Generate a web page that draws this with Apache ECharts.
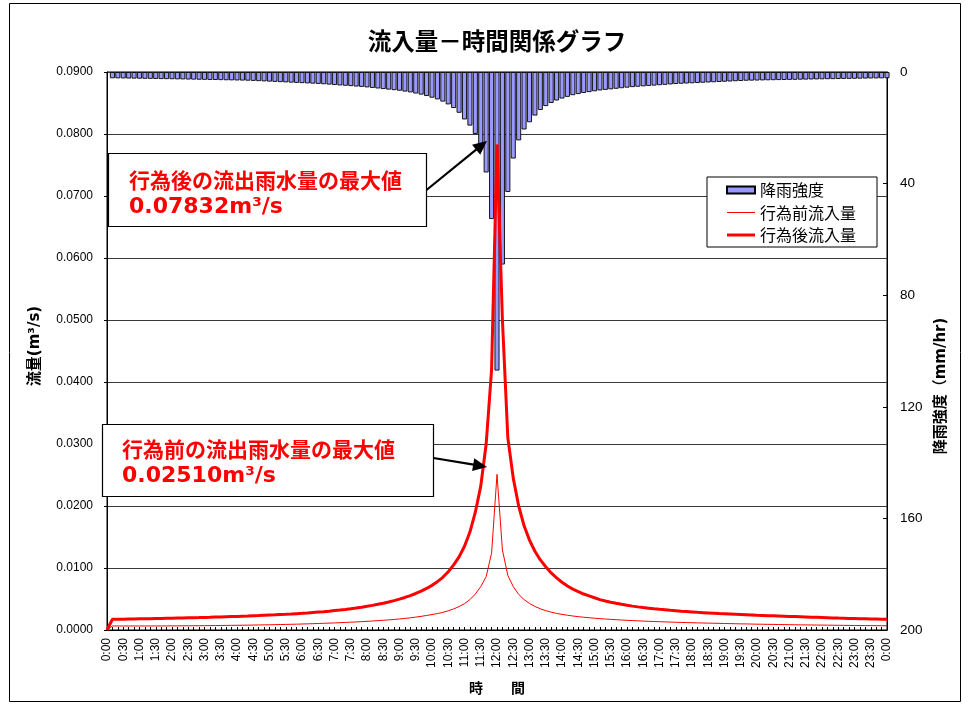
<!DOCTYPE html>
<html><head><meta charset="utf-8">
<script src="https://cdn.jsdelivr.net/npm/echarts@6/dist/echarts.min.js"></script>
<style>html,body{margin:0;padding:0;background:#fff}#c{width:970px;height:704px}</style>
</head><body><div id="c"></div>
<script>
// ---- data (10-minute steps, 0:00 .. 24:00) ----
const rainfall = [null,
2.24,2.27,2.30,2.33,2.36,2.39,2.42,2.45,2.48,2.52,
2.55,2.58,2.62,2.65,2.69,2.72,2.76,2.79,2.83,2.86,
2.90,2.94,2.98,3.02,3.06,3.10,3.17,3.26,3.35,3.44,
3.53,3.62,3.71,3.80,3.89,3.98,4.07,4.16,4.25,4.37,
4.50,4.65,4.80,4.92,5.05,5.20,5.33,5.50,5.70,5.90,
6.10,6.30,6.50,6.70,7.00,7.30,7.70,8.10,8.60,9.20,
9.80,10.6,11.6,12.9,14.6,17.0,19.2,22.2,27.0,36.0,
52.7,
107.0,
69.0,43.0,31.0,24.5,20.6,18.0,15.6,13.6,12.2,11.1,
10.2,9.5,8.9,8.3,7.9,7.5,7.2,6.9,6.6,6.4,
6.2,6.0,5.8,5.6,5.4,5.27,5.12,4.98,4.86,4.72,
4.58,4.44,4.30,4.20,4.11,4.02,3.93,3.84,3.75,3.66,
3.57,3.48,3.39,3.30,3.21,3.12,3.08,3.04,3.00,2.96,
2.92,2.88,2.85,2.81,2.78,2.74,2.71,2.67,2.64,2.60,
2.57,2.54,2.50,2.47,2.44,2.41,2.38,2.35,2.32,2.29,
2.26,2.23];

const flowBefore = [0,
0.00065,0.00065,0.00065,0.00065,0.00065,0.00065,0.00065,0.00065,0.00065,0.00066,
0.00066,0.00067,0.00067,0.00068,0.00068,0.00069,0.00069,0.00070,0.00071,0.00072,
0.00073,0.00074,0.00075,0.00076,0.00077,0.00078,0.00080,0.00081,0.00083,0.00084,
0.00086,0.00088,0.00090,0.00092,0.00094,0.00097,0.00099,0.00102,0.00105,0.00108,
0.00111,0.00114,0.00118,0.00122,0.00126,0.00130,0.00135,0.00140,0.00145,0.00151,
0.00157,0.00163,0.00170,0.00178,0.00187,0.00197,0.00208,0.00220,0.00234,0.00250,
0.00265,0.00285,0.00310,0.00340,0.00378,0.00425,0.00490,0.00580,0.00700,0.00860,
0.01240,
0.02510,
0.01290,0.00880,0.00700,0.00575,0.00490,0.00428,0.00380,0.00342,0.00312,0.00288,
0.00268,0.00252,0.00238,0.00226,0.00215,0.00206,0.00198,0.00190,0.00183,0.00177,
0.00171,0.00166,0.00161,0.00156,0.00152,0.00148,0.00144,0.00140,0.00137,0.00134,
0.00131,0.00128,0.00125,0.00122,0.00120,0.00117,0.00115,0.00113,0.00111,0.00109,
0.00107,0.00105,0.00103,0.00101,0.00099,0.00098,0.00096,0.00094,0.00093,0.00091,
0.00090,0.00088,0.00087,0.00086,0.00084,0.00083,0.00082,0.00081,0.00080,0.00079,
0.00078,0.00077,0.00076,0.00075,0.00074,0.00073,0.00072,0.00071,0.00071,0.00070,
0.00069,0.00069];

const flowAfter = [0,
0.00173,0.00174,0.00175,0.00177,0.00178,0.00180,0.00181,0.00183,0.00185,0.00186,
0.00188,0.00190,0.00192,0.00194,0.00196,0.00198,0.00200,0.00203,0.00205,0.00208,
0.00210,0.00213,0.00216,0.00219,0.00222,0.00225,0.00229,0.00232,0.00236,0.00240,
0.00244,0.00249,0.00253,0.00258,0.00264,0.00269,0.00275,0.00282,0.00289,0.00296,
0.00304,0.00313,0.00322,0.00332,0.00343,0.00355,0.00368,0.00382,0.00397,0.00414,
0.00432,0.00452,0.00474,0.00498,0.00525,0.00555,0.00589,0.00627,0.00670,0.00720,
0.00780,0.00850,0.00940,0.01050,0.01180,0.01350,0.01580,0.01900,0.02320,0.03000,
0.04200,
0.07832,
0.05000,0.03100,0.02450,0.02000,0.01680,0.01450,0.01270,0.01130,0.01020,0.00920,
0.00840,0.00770,0.00710,0.00660,0.00620,0.00580,0.00550,0.00520,0.00490,0.00468,
0.00448,0.00430,0.00414,0.00399,0.00385,0.00373,0.00362,0.00352,0.00342,0.00333,
0.00325,0.00317,0.00310,0.00303,0.00297,0.00291,0.00285,0.00280,0.00275,0.00270,
0.00265,0.00261,0.00257,0.00253,0.00249,0.00245,0.00241,0.00237,0.00234,0.00231,
0.00228,0.00225,0.00222,0.00219,0.00216,0.00213,0.00210,0.00207,0.00204,0.00201,
0.00198,0.00195,0.00192,0.00190,0.00187,0.00185,0.00182,0.00180,0.00178,0.00176,
0.00174,0.00172];

// time categories 0:00 .. 24:00 (shown as 0:00) every 10 minutes
const timeLabels = [];
for (let m = 0; m <= 1440; m += 10) {
  const h = Math.floor(m / 60) % 24, mm = m % 60;
  timeLabels.push(h + ':' + (mm < 10 ? '0' : '') + mm);
}
const flowTicks = { min: 0, max: 0.09, interval: 0.01 };
const rainTicks = { min: 0, max: 200, interval: 40 };

const seriesNames = ['降雨強度', '行為前流入量', '行為後流入量'];
const peakAfterText = ['行為後の流出雨水量の最大値', '0.07832m³/s'];
const peakBeforeText = ['行為前の流出雨水量の最大値', '0.02510m³/s'];

// ---- chart ----
const JP = '"Noto Sans CJK JP", sans-serif';
const LAT = '"DejaVu Sans", "Noto Sans CJK JP", sans-serif';
const NUM = '"Liberation Sans", Arial, sans-serif';

const chart = echarts.init(document.getElementById('c'), null, { renderer: 'canvas' });

const option = {
  animation: false,
  backgroundColor: '#ffffff',
  grid: { left: 107, right: 83, top: 72, bottom: 74, show: true, borderColor: '#000', borderWidth: 1 },
  legend: {
    orient: 'vertical', left: 707, top: 177,
    padding: [5, 21, 4, 19], itemGap: 6.5,
    backgroundColor: '#fff', borderColor: '#000', borderWidth: 1,
    itemWidth: 28, itemHeight: 7,
    textStyle: { fontFamily: JP, fontSize: 16, color: '#000' },
    data: [
      { name: seriesNames[0], icon: 'rect' },
      { name: seriesNames[1], icon: 'path://M0,0 H28 V1 H0 Z', itemStyle: { color: '#ff0000', borderWidth: 0 } },
      { name: seriesNames[2], icon: 'path://M0,0 H28 V3 H0 Z', itemStyle: { color: '#ff0000', borderWidth: 0 } }
    ]
  },
  xAxis: {
    type: 'category', data: timeLabels, boundaryGap: false,
    axisLine: { lineStyle: { color: '#000', width: 1 } },
    axisTick: { show: true, interval: 0, inside: true, length: 3, lineStyle: { color: '#000' } },
    axisLabel: { interval: 2, rotate: 90, fontFamily: NUM, fontSize: 12, color: '#000', margin: 8 },
    splitLine: { show: false }
  },
  yAxis: [
    {
      type: 'value', position: 'left', min: flowTicks.min, max: flowTicks.max, interval: flowTicks.interval,
      axisLine: { show: true, lineStyle: { color: '#000' } },
      axisTick: { show: true, length: 3, lineStyle: { color: '#000' } },
      axisLabel: { formatter: v => v.toFixed(4), fontFamily: NUM, fontSize: 12, color: '#000', margin: 14 },
      splitLine: { show: true, lineStyle: { color: '#3a3a3a', width: 1 } }
    },
    {
      type: 'value', position: 'right', inverse: true, min: rainTicks.min, max: rainTicks.max, interval: rainTicks.interval,
      axisLine: { show: true, lineStyle: { color: '#000' } },
      axisTick: { show: true, inside: true, length: 4, lineStyle: { color: '#000' } },
      axisLabel: { fontFamily: NUM, fontSize: 13.5, color: '#000', margin: 13 },
      splitLine: { show: false }
    }
  ],
  series: [
    {
      name: seriesNames[0], type: 'bar', yAxisIndex: 1, data: rainfall,
      barWidth: 5, clip: true, z: 2,
      itemStyle: { color: '#9999ff', borderColor: '#000', borderWidth: 0.9 }
    },
    {
      name: seriesNames[1], type: 'line', yAxisIndex: 0, data: flowBefore,
      symbol: 'none', z: 4,
      lineStyle: { color: '#ff0000', width: 1 }, itemStyle: { color: '#ff0000' }
    },
    {
      name: seriesNames[2], type: 'line', yAxisIndex: 0, data: flowAfter,
      symbol: 'none', z: 5,
      lineStyle: { color: '#ff0000', width: 3 }, itemStyle: { color: '#ff0000' }
    }
  ]
};
chart.setOption(option);

// ---- annotations (boxes, arrows, titles) ----
function arrow(from, to) {
  const dx = to[0] - from[0], dy = to[1] - from[1];
  const len = Math.sqrt(dx * dx + dy * dy), ux = dx / len, uy = dy / len;
  const hl = 14, hw = 6.5;
  const bx = to[0] - ux * hl, by = to[1] - uy * hl;
  return [
    { type: 'line', z: 20, shape: { x1: from[0], y1: from[1], x2: bx + ux * 2, y2: by + uy * 2 }, style: { stroke: '#000', lineWidth: 2.2 } },
    { type: 'polygon', z: 20, shape: { points: [to, [bx - uy * hw, by + ux * hw], [bx + uy * hw, by - ux * hw]] }, style: { fill: '#000' } }
  ];
}
const iPeak = flowAfter.indexOf(Math.max.apply(null, flowAfter));
const pA = chart.convertToPixel({ xAxisIndex: 0, yAxisIndex: 0 }, [iPeak, flowAfter[iPeak]]);
const pB = chart.convertToPixel({ xAxisIndex: 0, yAxisIndex: 0 }, [iPeak, flowBefore[iPeak]]);

const graphics = [
  { type: 'rect', z: 0, silent: true, shape: { x: 9.5, y: 3.5, width: 951, height: 698 }, style: { fill: 'none', stroke: '#000', lineWidth: 1 } },
  { type: 'text', z: 20, x: 497, y: 41, style: { text: '流入量－時間関係グラフ', font: 'bold 23.5px ' + JP, fill: '#000', align: 'center', verticalAlign: 'middle' } },
  { type: 'text', z: 20, x: 35, y: 346, rotation: Math.PI / 2, style: { text: '流量(m³/s)', font: 'bold 15px ' + LAT, fill: '#000', align: 'center', verticalAlign: 'middle' } },
  { type: 'text', z: 20, x: 941, y: 386, rotation: Math.PI / 2, style: { text: '降雨強度（mm/hr)', font: 'bold 15px ' + LAT, fill: '#000', align: 'center', verticalAlign: 'middle' } },
  { type: 'text', z: 20, x: 497, y: 688, style: { text: '時　　間', font: 'bold 14px ' + JP, fill: '#000', align: 'center', verticalAlign: 'middle' } },
  // box: after
  { type: 'rect', z: 19, shape: { x: 108.5, y: 153.5, width: 318, height: 73 }, style: { fill: '#fff', stroke: '#000', lineWidth: 1.2 } },
  { type: 'text', z: 20, x: 129, y: 180, style: { text: peakAfterText[0], font: 'bold 21px ' + JP, fill: '#ff0000', verticalAlign: 'middle' } },
  { type: 'text', z: 20, x: 129, y: 207, style: { text: peakAfterText[1], font: 'bold 22px ' + LAT, fill: '#ff0000', verticalAlign: 'middle' } },
  // box: before
  { type: 'rect', z: 19, shape: { x: 102.5, y: 424.5, width: 331, height: 72 }, style: { fill: '#fff', stroke: '#000', lineWidth: 1.2 } },
  { type: 'text', z: 20, x: 122, y: 449, style: { text: peakBeforeText[0], font: 'bold 21px ' + JP, fill: '#ff0000', verticalAlign: 'middle' } },
  { type: 'text', z: 20, x: 122, y: 476, style: { text: peakBeforeText[1], font: 'bold 22px ' + LAT, fill: '#ff0000', verticalAlign: 'middle' } }
].concat(
  arrow([426.5, 190], [pA[0] - 10, pA[1] - 3.5]),
  arrow([433.5, 458], [pB[0] - 10, pB[1] - 7.5])
);
chart.setOption({ graphic: graphics });
</script>
</body></html>
